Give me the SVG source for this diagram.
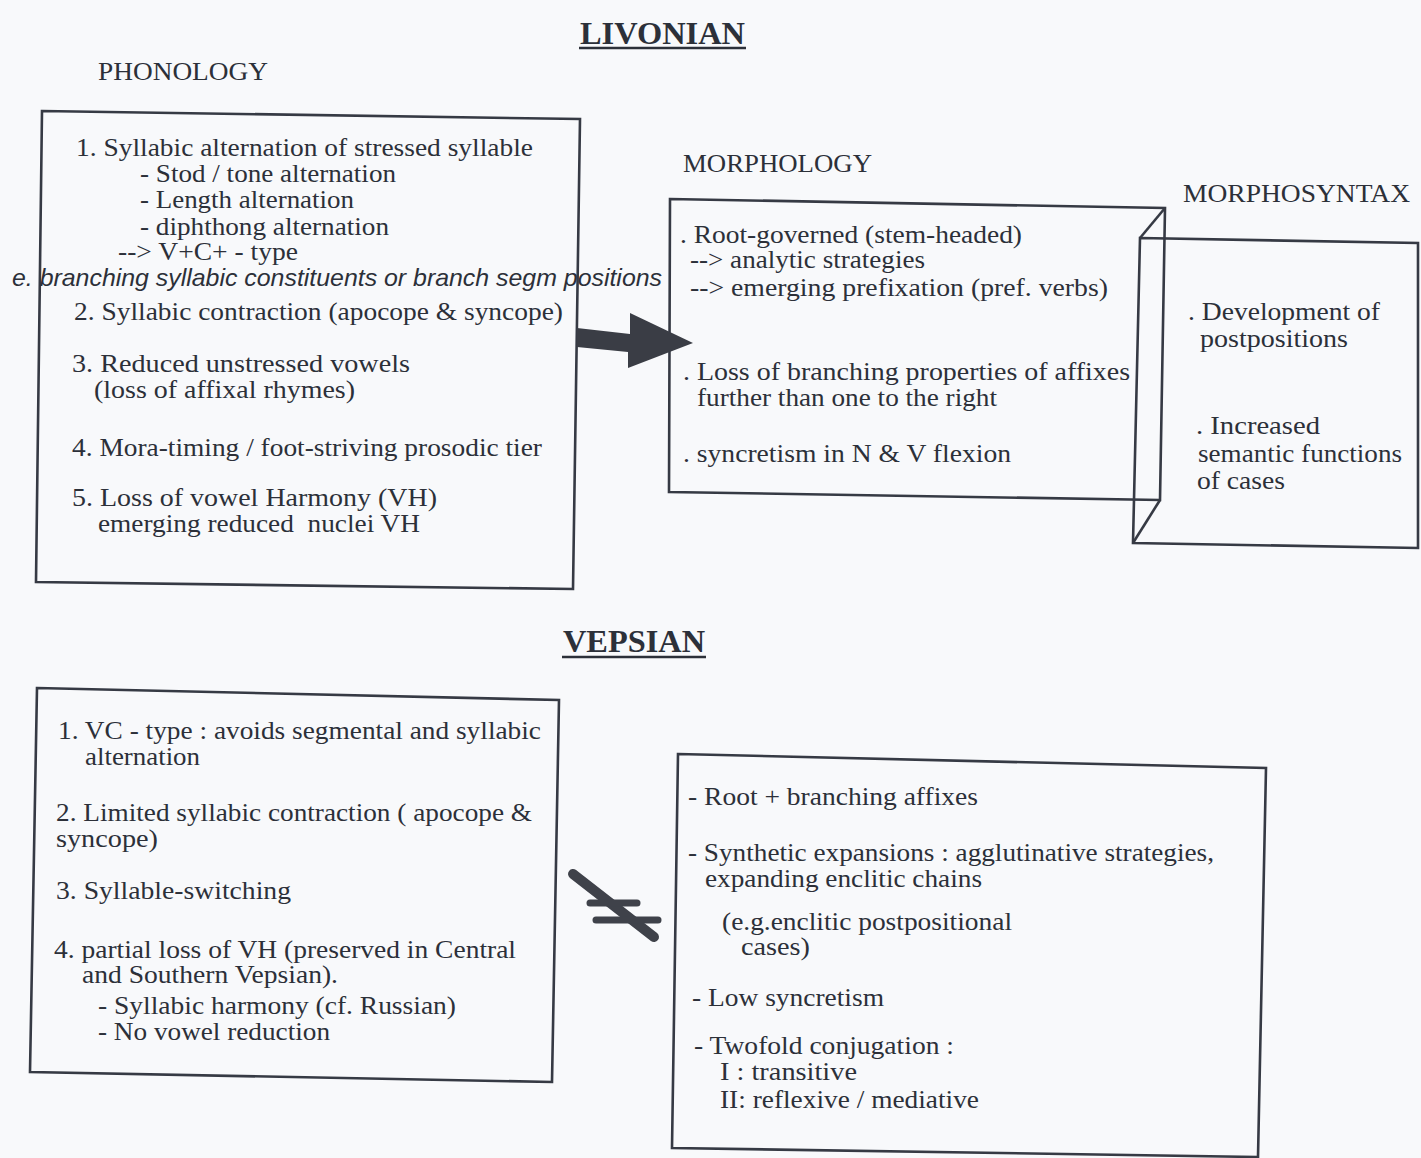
<svg xmlns="http://www.w3.org/2000/svg" width="1421" height="1158" viewBox="0 0 1421 1158">
<defs>
<style>
.bg{fill:#f8f9fb}
.box{fill:none;stroke:#363a44;stroke-width:2.6;stroke-linejoin:miter}
.t{font-family:"Liberation Serif","Times New Roman",serif;font-size:25px;fill:#2c3039}
.h{font-family:"Liberation Serif","Times New Roman",serif;font-size:26px;fill:#2c3039}
.ttl{font-family:"Liberation Serif","Times New Roman",serif;font-size:32px;font-weight:bold;fill:#2c3039}
.it{font-family:"Liberation Sans",Arial,sans-serif;font-size:24px;font-style:italic;fill:#2c3039}
.ul{stroke:#2c3039;stroke-width:2.4}
.conn{fill:#3a3d45;stroke:none}
.bar{stroke:#3f424a;stroke-linecap:round;fill:none}
</style>
</defs>
<rect class="bg" x="0" y="0" width="1421" height="1158"/>

<g id="title-livonian">
<text class="ttl" x="580" y="44" textLength="165" lengthAdjust="spacingAndGlyphs">LIVONIAN</text>
<line class="ul" x1="579" y1="48" x2="746" y2="48"/>
</g>

<g id="label-phonology"><text class="h" x="98" y="80" textLength="170" lengthAdjust="spacingAndGlyphs">PHONOLOGY</text></g>
<g id="label-morphology"><text class="h" x="683" y="172" textLength="189" lengthAdjust="spacingAndGlyphs">MORPHOLOGY</text></g>
<g id="label-morphosyntax"><text class="h" x="1183" y="202" textLength="227" lengthAdjust="spacingAndGlyphs">MORPHOSYNTAX</text></g>

<g id="livonian-phonology">
<polygon class="box" points="42,111 580,119 573,589 36,582"/>
<text class="t" x="76" y="156" textLength="457" lengthAdjust="spacingAndGlyphs">1. Syllabic alternation of stressed syllable</text>
<text class="t" x="140" y="182" textLength="256" lengthAdjust="spacingAndGlyphs">- Stod / tone alternation</text>
<text class="t" x="140" y="208" textLength="214" lengthAdjust="spacingAndGlyphs">- Length alternation</text>
<text class="t" x="140" y="235" textLength="249" lengthAdjust="spacingAndGlyphs">- diphthong alternation</text>
<text class="t" x="118" y="260" textLength="180" lengthAdjust="spacingAndGlyphs">--&gt; V+C+ - type</text>
<text class="it" x="12" y="286" textLength="650" lengthAdjust="spacingAndGlyphs">e. branching syllabic constituents or branch segm positions</text>
<text class="t" x="74" y="320" textLength="489" lengthAdjust="spacingAndGlyphs">2. Syllabic contraction (apocope &amp; syncope)</text>
<text class="t" x="72" y="372" textLength="338" lengthAdjust="spacingAndGlyphs">3. Reduced unstressed vowels</text>
<text class="t" x="94" y="398" textLength="261" lengthAdjust="spacingAndGlyphs">(loss of affixal rhymes)</text>
<text class="t" x="72" y="456" textLength="470" lengthAdjust="spacingAndGlyphs">4. Mora-timing / foot-striving prosodic tier</text>
<text class="t" x="72" y="506" textLength="365" lengthAdjust="spacingAndGlyphs">5. Loss of vowel Harmony (VH)</text>
<text class="t" x="98" y="532" textLength="322" lengthAdjust="spacingAndGlyphs" xml:space="preserve" style="white-space:pre">emerging reduced  nuclei VH</text>
</g>

<g id="livonian-morphology">
<polygon class="box" points="670,199 1165,208 1160,500 669,492"/>
<text class="t" x="680" y="243" textLength="342" lengthAdjust="spacingAndGlyphs">. Root-governed (stem-headed)</text>
<text class="t" x="690" y="268" textLength="235" lengthAdjust="spacingAndGlyphs">--&gt; analytic strategies</text>
<text class="t" x="690" y="296" textLength="418" lengthAdjust="spacingAndGlyphs">--&gt; emerging prefixation (pref. verbs)</text>
<text class="t" x="683" y="380" textLength="447" lengthAdjust="spacingAndGlyphs">. Loss of branching properties of affixes</text>
<text class="t" x="697" y="406" textLength="300" lengthAdjust="spacingAndGlyphs">further than one to the right</text>
<text class="t" x="683" y="462" textLength="328" lengthAdjust="spacingAndGlyphs">. syncretism in N &amp; V flexion</text>
</g>

<g id="livonian-morphosyntax">
<polygon class="box" points="1140,238 1418,243 1418,548 1133,543"/>
<line class="box" x1="1165" y1="208" x2="1140" y2="238"/>
<line class="box" x1="1160" y1="500" x2="1133" y2="543"/>
<text class="t" x="1188" y="320" textLength="192" lengthAdjust="spacingAndGlyphs">. Development of</text>
<text class="t" x="1200" y="347" textLength="148" lengthAdjust="spacingAndGlyphs">postpositions</text>
<text class="t" x="1196" y="434" textLength="124" lengthAdjust="spacingAndGlyphs">. Increased</text>
<text class="t" x="1198" y="462" textLength="204" lengthAdjust="spacingAndGlyphs">semantic functions</text>
<text class="t" x="1197" y="489" textLength="88" lengthAdjust="spacingAndGlyphs">of cases</text>
</g>

<g id="title-vepsian">
<text class="ttl" x="563" y="652" textLength="142" lengthAdjust="spacingAndGlyphs">VEPSIAN</text>
<line class="ul" x1="562" y1="657" x2="706" y2="657"/>
</g>

<g id="vepsian-phonology">
<polygon class="box" points="37,688 559,700 552,1082 30,1072"/>
<text class="t" x="58" y="739" textLength="483" lengthAdjust="spacingAndGlyphs">1. VC - type : avoids segmental and syllabic</text>
<text class="t" x="85" y="765" textLength="115" lengthAdjust="spacingAndGlyphs">alternation</text>
<text class="t" x="56" y="821" textLength="476" lengthAdjust="spacingAndGlyphs">2. Limited syllabic contraction ( apocope &amp;</text>
<text class="t" x="56" y="847" textLength="102" lengthAdjust="spacingAndGlyphs">syncope)</text>
<text class="t" x="56" y="899" textLength="235" lengthAdjust="spacingAndGlyphs">3. Syllable-switching</text>
<text class="t" x="54" y="958" textLength="462" lengthAdjust="spacingAndGlyphs">4. partial loss of VH (preserved in Central</text>
<text class="t" x="82" y="983" textLength="256" lengthAdjust="spacingAndGlyphs">and Southern Vepsian).</text>
<text class="t" x="98" y="1014" textLength="358" lengthAdjust="spacingAndGlyphs">- Syllabic harmony (cf. Russian)</text>
<text class="t" x="98" y="1040" textLength="232" lengthAdjust="spacingAndGlyphs">- No vowel reduction</text>
</g>

<g id="vepsian-morphology">
<polygon class="box" points="678,754 1266,768 1258,1157 672,1148"/>
<text class="t" x="688" y="805" textLength="290" lengthAdjust="spacingAndGlyphs">- Root + branching affixes</text>
<text class="t" x="688" y="861" textLength="526" lengthAdjust="spacingAndGlyphs">- Synthetic expansions : agglutinative strategies,</text>
<text class="t" x="705" y="887" textLength="277" lengthAdjust="spacingAndGlyphs">expanding enclitic chains</text>
<text class="t" x="722" y="930" textLength="290" lengthAdjust="spacingAndGlyphs">(e.g.enclitic postpositional</text>
<text class="t" x="741" y="955" textLength="69" lengthAdjust="spacingAndGlyphs">cases)</text>
<text class="t" x="692" y="1006" textLength="192" lengthAdjust="spacingAndGlyphs">- Low syncretism</text>
<text class="t" x="694" y="1054" textLength="260" lengthAdjust="spacingAndGlyphs">- Twofold conjugation :</text>
<text class="t" x="720" y="1080" textLength="137" lengthAdjust="spacingAndGlyphs">I : transitive</text>
<text class="t" x="720" y="1108" textLength="259" lengthAdjust="spacingAndGlyphs">II: reflexive / mediative</text>
</g>

<g id="connectors">
<g id="arrow-livonian">
<polygon class="conn" points="577,328 630,334 630,313 693,343 628,368 628,352 577,347"/>
</g>
<g id="not-arrow-vepsian">
<line class="bar" x1="573" y1="874" x2="654" y2="937" stroke-width="10"/>
<line class="bar" x1="590" y1="903" x2="637" y2="903" stroke-width="7" stroke-linecap="butt"/>
<line class="bar" x1="596" y1="920" x2="658" y2="920" stroke-width="7" stroke-linecap="butt"/>
</g>
</g>
</svg>
